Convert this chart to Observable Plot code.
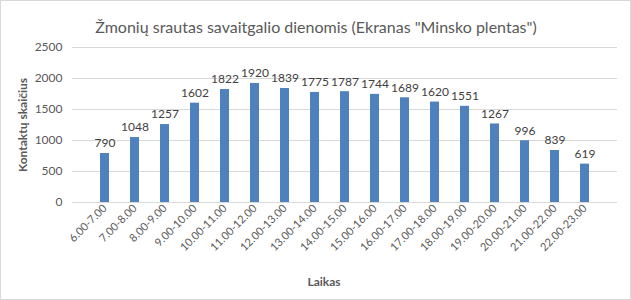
<!DOCTYPE html>
<html><head><meta charset="utf-8">
<script src="https://cdn.jsdelivr.net/npm/d3@7"></script>
<script src="https://cdn.jsdelivr.net/npm/@observablehq/plot@0.6"></script>
<style>
html,body{margin:0;padding:0;background:#fff;}
#wrap{position:relative;width:631px;height:300px;}
#border{position:absolute;left:0;top:0;width:629px;height:298px;border:1px solid #d9d9d9;pointer-events:none;}
</style></head>
<body><div id="wrap"><div id="border"></div></div>
<script>
const categories = ["6.00-7.00","7.00-8.00","8.00-9.00","9.00-10.00","10.00-11.00","11.00-12.00","12.00-13.00","13.00-14.00","14.00-15.00","15.00-16.00","16.00-17.00","17.00-18.00","18.00-19.00","19.00-20.00","20.00-21.00","21.00-22.00","22.00-23.00"];
const values = [790,1048,1257,1602,1822,1920,1839,1775,1787,1744,1689,1620,1551,1267,996,839,619];
const yTicks = [0,500,1000,1500,2000,2500];
const title = "Žmonių srautas savaitgalio dienomis (Ekranas \"Minsko plentas\")";
const data = categories.map((c,i)=>({c, v: values[i]}));
const font = "Lato, 'Open Sans', sans-serif";
const chart = Plot.plot({
  width: 631, height: 300,
  marginTop: 47, marginBottom: 98, marginLeft: 72, marginRight: 14,
  style: {fontFamily: font, fontSize: "11px", color: "#595959", background: "transparent"},
  x: {domain: categories, padding: 0.69, label: null},
  y: {domain: [0,2500], ticks: yTicks, label: null},
  marks: [
    Plot.gridY(yTicks, {stroke: "#d9d9d9", strokeOpacity: 1}),
    Plot.axisY({ticks: yTicks, tickSize: 0, tickPadding: 10, fontSize: 12, label: null, tickFormat: d => String(d)}),
    Plot.axisX({tickSize: 0, tickPadding: 4, tickRotate: -45, fontSize: 11, label: null}),
    Plot.barY(data, {x: "c", y: "v", fill: "#4f81bd"}),
    Plot.text(data, {x: "c", y: "v", text: d => String(d.v), dy: -10, fill: "#404040", fontSize: 12}),
    Plot.ruleY([0], {stroke: "#d9d9d9"}),
    Plot.text([title], {frameAnchor: "top", dy: -26, dx: -29, fontSize: 16, fill: "#595959", text: d => d}),
    Plot.text(["Laikas"], {frameAnchor: "bottom", dy: 83, dx: -21, fontSize: 12, fontWeight: "bold", fill: "#595959", text: d => d}),
    Plot.text(["Kontaktų skaičius"], {frameAnchor: "left", textAnchor: "middle", dx: -49, rotate: -90, fontSize: 12, fontWeight: "bold", fill: "#595959", text: d => d})
  ]
});
document.getElementById("wrap").prepend(chart);
</script></body></html>
